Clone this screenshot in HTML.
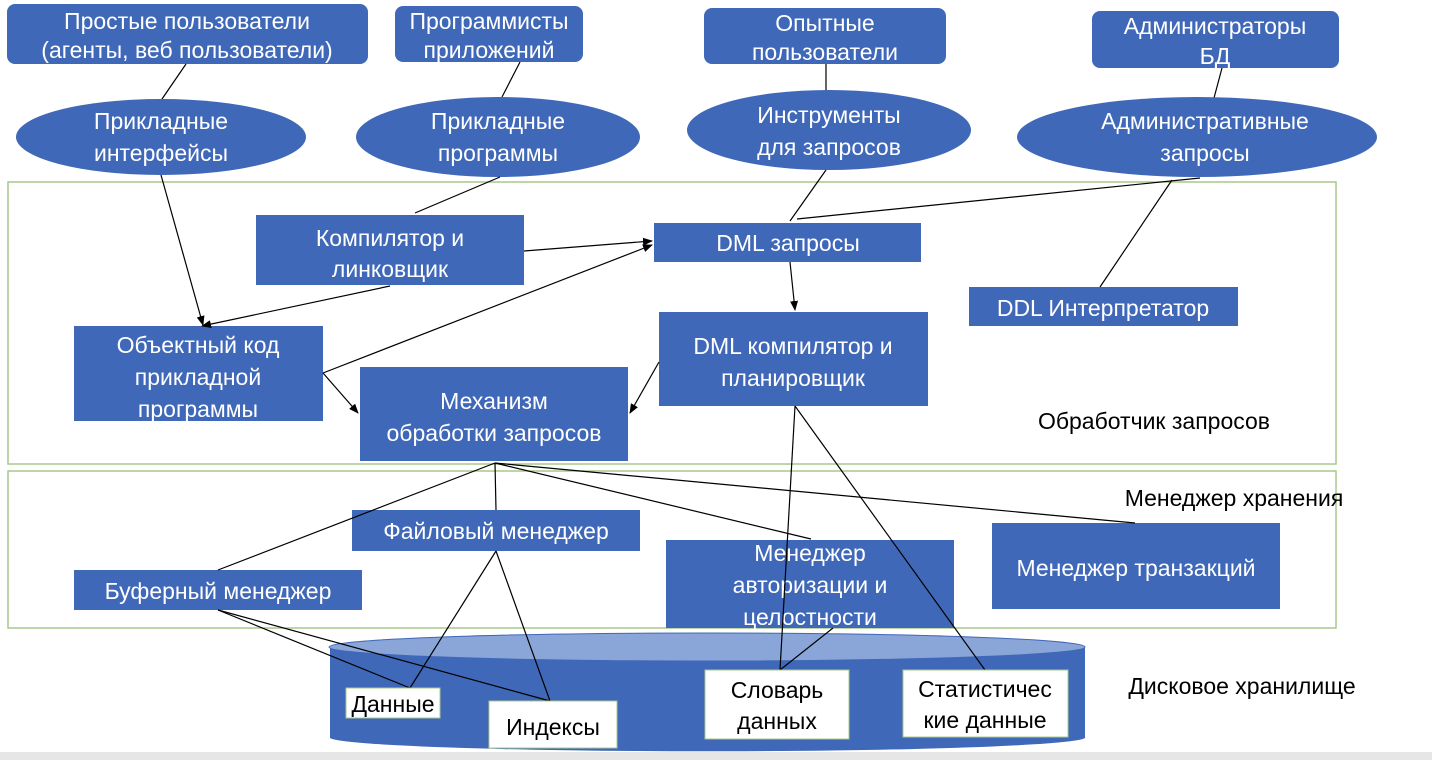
<!DOCTYPE html>
<html><head><meta charset="utf-8"><style>
body{margin:0;background:#fff;}
svg{display:block;font-family:"Liberation Sans","DejaVu Sans",sans-serif;}
.b{fill:#4068b8;}
.w{fill:#fff;font-size:23px;text-anchor:middle;}
.k{fill:#000;font-size:23px;text-anchor:middle;}
line{stroke:#000;stroke-width:1.2;}
</style></head><body>
<svg width="1432" height="760" viewBox="0 0 1432 760">
<defs><marker id="a" markerWidth="10" markerHeight="8" refX="9" refY="4" orient="auto" markerUnits="userSpaceOnUse"><path d="M0,0 L10,4 L0,8 z" fill="#000"/></marker></defs>
<rect x="0" y="752" width="1432" height="8" fill="#e6e6e6"/>
<rect class="b" x="7" y="4" width="361" height="60" rx="8"/>
<text class="w" x="187" y="29">Простые пользователи</text>
<text class="w" x="187" y="58">(агенты, веб пользователи)</text>
<rect class="b" x="395" y="6" width="188" height="56" rx="8"/>
<text class="w" x="489" y="29">Программисты</text>
<text class="w" x="489" y="58">приложений</text>
<rect class="b" x="704" y="8" width="242" height="56" rx="8"/>
<text class="w" x="825" y="31">Опытные</text>
<text class="w" x="825" y="60">пользователи</text>
<rect class="b" x="1092" y="11" width="247" height="57" rx="8"/>
<text class="w" x="1215" y="34">Администраторы</text>
<text class="w" x="1215" y="64">БД</text>
<line x1="186" y1="64" x2="162" y2="99"/>
<line x1="520" y1="62" x2="502" y2="97"/>
<line x1="826" y1="64" x2="826" y2="92"/>
<line x1="1222" y1="68" x2="1214" y2="98"/>
<ellipse class="b" cx="161" cy="137" rx="145" ry="38"/>
<text class="w" x="161" y="129">Прикладные</text><text class="w" x="161" y="161">интерфейсы</text>
<ellipse class="b" cx="498" cy="137" rx="142" ry="40"/>
<text class="w" x="498" y="129">Прикладные</text><text class="w" x="498" y="161">программы</text>
<ellipse class="b" cx="829" cy="130" rx="142" ry="40"/>
<text class="w" x="829" y="123">Инструменты</text><text class="w" x="829" y="155">для запросов</text>
<ellipse class="b" cx="1197" cy="137" rx="180" ry="40"/>
<text class="w" x="1205" y="129">Административные</text><text class="w" x="1205" y="161">запросы</text>
<rect x="8" y="182" width="1328" height="282" fill="none" stroke="#a9c98a" stroke-width="1.5"/>
<rect x="8" y="471" width="1328" height="157" fill="none" stroke="#a9c98a" stroke-width="1.5"/>
<rect class="b" x="256" y="215" width="268" height="70"/>
<text class="w" x="390" y="246">Компилятор и</text><text class="w" x="390" y="277">линковщик</text>
<rect class="b" x="654" y="223" width="267" height="39"/>
<text class="w" x="788" y="251">DML запросы</text>
<rect class="b" x="969" y="287" width="269" height="39"/>
<text class="w" x="1103" y="316">DDL  Интерпретатор</text>
<rect class="b" x="74" y="326" width="249" height="95"/>
<text class="w" x="198" y="353">Объектный код</text><text class="w" x="198" y="385">прикладной</text><text class="w" x="198" y="417">программы</text>
<rect class="b" x="659" y="312" width="269" height="94"/>
<text class="w" x="793" y="354">DML компилятор и</text><text class="w" x="793" y="386">планировщик</text>
<rect class="b" x="360" y="367" width="268" height="94"/>
<text class="w" x="494" y="409">Механизм</text><text class="w" x="494" y="441">обработки запросов</text>
<rect class="b" x="352" y="510" width="288" height="41"/>
<text class="w" x="496" y="539">Файловый менеджер</text>
<rect class="b" x="74" y="570" width="288" height="40"/>
<text class="w" x="218" y="599">Буферный менеджер</text>
<rect class="b" x="666" y="540" width="288" height="88"/>
<text class="w" x="810" y="561">Менеджер</text><text class="w" x="810" y="593">авторизации и</text><text class="w" x="810" y="625">целостности</text>
<rect class="b" x="992" y="523" width="288" height="86"/>
<text class="w" x="1136" y="576">Менеджер транзакций</text>
<text class="k" x="1154" y="429">Обработчик запросов</text>
<text class="k" x="1234" y="506">Менеджер хранения</text>
<text class="k" x="1242" y="694">Дисковое хранилище</text>
<path class="b" d="M330,647 L330,738 A378,14 0 0 0 1085,738 L1085,647 Z"/>
<ellipse cx="707" cy="647" rx="378" ry="14" fill="#8aa5d8" stroke="#4068b8" stroke-width="1"/>
<line x1="161" y1="175" x2="203" y2="325" marker-end="url(#a)"/>
<line x1="500" y1="177" x2="415" y2="213"/>
<line x1="826" y1="170" x2="790" y2="221"/>
<line x1="1200" y1="178" x2="797" y2="219"/>
<line x1="1172" y1="180" x2="1100" y2="287"/>
<line x1="524" y1="251" x2="652" y2="241" marker-end="url(#a)"/>
<line x1="390" y1="286" x2="202" y2="326" marker-end="url(#a)"/>
<line x1="323" y1="373" x2="652" y2="245" marker-end="url(#a)"/>
<line x1="323" y1="373" x2="358" y2="413" marker-end="url(#a)"/>
<line x1="790" y1="262" x2="795" y2="310" marker-end="url(#a)"/>
<line x1="659" y1="362" x2="630" y2="413" marker-end="url(#a)"/>
<line x1="495" y1="463" x2="218" y2="570"/>
<line x1="495" y1="463" x2="496" y2="510"/>
<line x1="495" y1="463" x2="811" y2="539"/>
<line x1="495" y1="463" x2="1135" y2="523"/>
<line x1="795" y1="406" x2="780" y2="670"/>
<line x1="795" y1="406" x2="985" y2="670"/>
<line x1="833" y1="628" x2="780" y2="670"/>
<line x1="496" y1="551" x2="410" y2="688"/>
<line x1="496" y1="551" x2="550" y2="701"/>
<line x1="218" y1="610" x2="410" y2="688"/>
<line x1="218" y1="610" x2="550" y2="701"/>
<rect x="346" y="688" width="94" height="30" fill="#fff" stroke="#a9c98a"/>
<text class="k" x="393" y="712">Данные</text>
<rect x="489" y="701" width="128" height="47" fill="#fff" stroke="#a9c98a"/>
<text class="k" x="553" y="735">Индексы</text>
<rect x="705" y="670" width="144" height="69" fill="#fff" stroke="#a9c98a"/>
<text class="k" x="777" y="698">Словарь</text><text class="k" x="777" y="729">данных</text>
<rect x="903" y="670" width="165" height="67" fill="#fff" stroke="#a9c98a"/>
<text class="k" x="985" y="697">Статистичес</text><text class="k" x="985" y="728">кие данные</text>
</svg>
</body></html>
